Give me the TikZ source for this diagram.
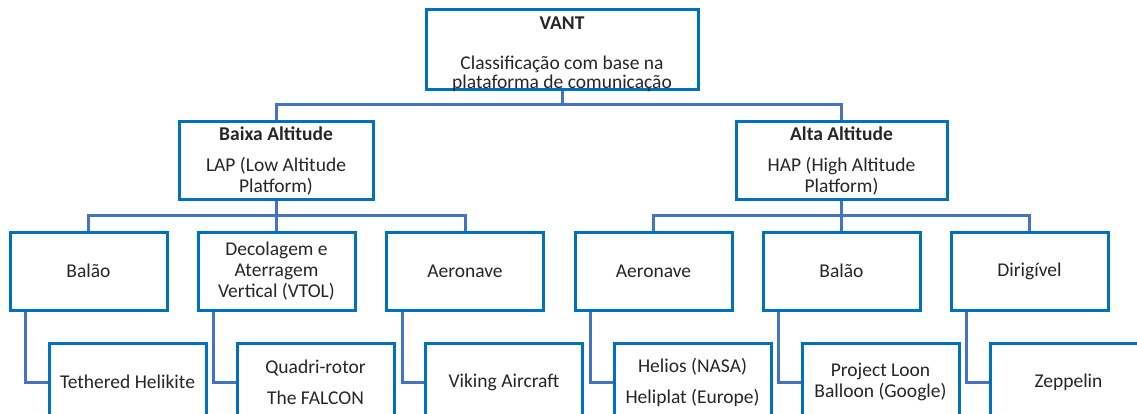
\documentclass[tikz,border=0pt]{standalone}
\usepackage{fontspec}
\setmainfont{Carlito}
\usetikzlibrary{backgrounds}
\definecolor{boxblue}{RGB}{0,112,192}
\definecolor{linkblue}{RGB}{68,114,196}
\begin{document}
\begin{tikzpicture}[x=1pt,y=-1pt,
  box/.style={draw=boxblue, line width=3pt, fill=white, align=center, inner sep=0pt,
    text=black!85, font=\fontsize{19.5}{21}\selectfont},
  rootbox/.style={box, minimum width=272pt, minimum height=80pt},
  lapbox/.style={box, minimum width=194pt, minimum height=78pt},
  hapbox/.style={box, minimum width=211pt, minimum height=78pt},
  catbox/.style={box, minimum width=157pt, minimum height=78pt},
  leafbox/.style={box, minimum width=157pt, minimum height=78pt},
  link/.style={draw=linkblue, line width=3pt}]
\useasboundingbox (0,0) rectangle (1137,414);
\clip (0,0) rectangle (1137,414);

% root of the classification tree (text block lowered without growing the box)
\node[rootbox] (root) at (562,50) {\raisebox{-10pt}[0pt][0pt]{\begin{tabular}{@{}c@{}}\textbf{VANT}\\[19pt]Classificação com base na\\[-2pt]plataforma de comunicação\end{tabular}}};

% altitude classes
\node[lapbox] (lap) at (276,161) {\textbf{Baixa Altitude}\\[10pt]LAP (Low Altitude\\Platform)};
\node[hapbox] (hap) at (841.5,161) {\textbf{Alta Altitude}\\[10pt]HAP (High Altitude\\Platform)};

% platform categories
\node[catbox] (c1) at (88.5,271) {Balão};
\node[catbox] (c2) at (276.5,271) {Decolagem e\\Aterragem\\Vertical (VTOL)};
\node[catbox] (c3) at (465,271) {Aeronave};
\node[catbox] (c4) at (653.5,271) {Aeronave};
\node[catbox] (c5) at (841.5,271) {Balão};
\node[catbox] (c6) at (1029.5,271) {Dirigível};

% examples
\node[leafbox] (e1) at (127.5,382) {Tethered Helikite};
\node[leafbox] (e2) at (315.5,382) {Quadri-rotor\\[10pt]The FALCON};
\node[leafbox] (e3) at (504,382) {Viking Aircraft};
\node[leafbox] (e4) at (692.5,382) {Helios (NASA)\\[10pt]Heliplat (Europe)};
\node[leafbox] (e5) at (880.5,382) {Project Loon\\Balloon (Google)};
\node[leafbox] (e6) at (1068.5,382) {Zeppelin};

% horizontal rails of the tree
\coordinate (rail0) at (0,105);
\coordinate (rail1) at (0,215);

\begin{scope}[on background layer]
  \draw[link] (root.south) -- (root.south |- rail0) -| (lap.north);
  \draw[link] (root.south |- rail0) -| (hap.north);
  \foreach \c in {c1,c2,c3} {
    \draw[link] (lap.south) -- (lap.south |- rail1) -| (\c.north);
  }
  \foreach \c in {c4,c5,c6} {
    \draw[link] (hap.south) -- (hap.south |- rail1) -| (\c.north);
  }
  \foreach \c/\e in {c1/e1,c2/e2,c3/e3,c4/e4,c5/e5,c6/e6} {
    \draw[link] ([xshift=17pt]\c.south west) |- (\e.west);
  }
\end{scope}
\end{tikzpicture}
\end{document}
